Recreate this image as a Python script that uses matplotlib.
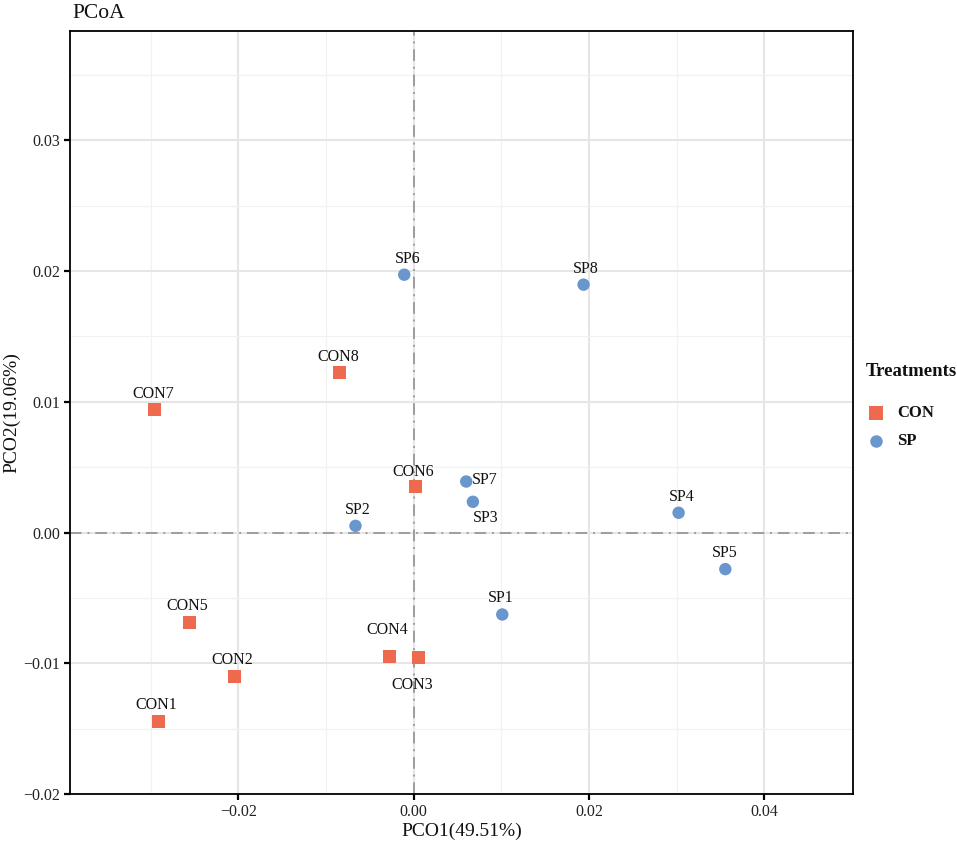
import matplotlib
matplotlib.use("Agg")
import matplotlib.pyplot as plt
from matplotlib.lines import Line2D

plt.rcParams['font.family'] = ['Liberation Serif', 'DejaVu Serif']
plt.rcParams['axes.unicode_minus'] = True

# ---- data ----
con_names = ["CON1", "CON2", "CON3", "CON4", "CON5", "CON6", "CON7", "CON8"]
con_x = [-0.02915, -0.02048, 0.00051, -0.00280, -0.02558, 0.00021, -0.02961, -0.00847]
con_y = [-0.01445, -0.01098, -0.00956, -0.00945, -0.00688, 0.00349, 0.00938, 0.01223]

sp_names = ["SP1", "SP2", "SP3", "SP4", "SP5", "SP6", "SP7", "SP8"]
sp_x = [0.01010, -0.00664, 0.00675, 0.03021, 0.03554, -0.00108, 0.00599, 0.01937]
sp_y = [-0.00627, 0.00051, 0.00235, 0.00151, -0.00280, 0.01972, 0.00390, 0.01896]

groups = ["CON", "SP"]
x_ticks = [-0.02, 0.00, 0.02, 0.04]
y_ticks = [-0.02, -0.01, 0.00, 0.01, 0.02, 0.03]

# label offsets (pixels) for repelled labels
con_off = [(-2, 16), (-2, 16), (-6, -27), (-2, 26), (-2, 16), (-2, 15), (-1, 16), (-1, 16)]
sp_off = [(-2, 16), (2, 16), (13, -16), (3, 16), (-1, 16), (3, 16), (19, 2), (2, 16)]

col_con = "#EE6A4F"
col_sp = "#6A96CE"
txt = '#111111'

W, H = 957, 841
fig = plt.figure(figsize=(W / 100, H / 100), dpi=100)
ax = fig.add_axes([70 / W, (H - 794) / H, (853 - 70) / W, (794 - 31) / H])

ax.set_xlim(-0.0392, 0.0501)
ax.set_ylim(-0.02, 0.03836)

ax.set_xticks(x_ticks)
ax.set_yticks(y_ticks)
ax.set_xticks([-0.03, -0.01, 0.01, 0.03], minor=True)
ax.set_yticks([-0.015, -0.005, 0.005, 0.015, 0.025, 0.035], minor=True)
ax.set_xticklabels(["\u22120.02", "0.00", "0.02", "0.04"])
ax.set_yticklabels(["\u22120.02", "\u22120.01", "0.00", "0.01", "0.02", "0.03"])

ax.grid(True, which='major', color='#E6E6E6', linewidth=1.5, zorder=0)
ax.grid(True, which='minor', color='#F2F2F2', linewidth=0.9, zorder=0)
ax.set_axisbelow(True)

ax.tick_params(axis='both', which='major', direction='out', length=4, width=1.6,
               colors='black', labelsize=11.5, labelcolor='#222222', pad=3)
ax.tick_params(axis='both', which='minor', length=0)
for s in ax.spines.values():
    s.set_linewidth(1.3)
    s.set_color('black')

ax.axvline(0, color='#9E9E9E', linewidth=1.4, linestyle=(0, (6, 3, 1, 3)), zorder=1)
ax.axhline(0, color='#9E9E9E', linewidth=1.4, linestyle=(0, (6, 3, 1, 3)), zorder=1)

ax.scatter(con_x, con_y, marker='s', s=88, color=col_con, edgecolors='none', zorder=3)
ax.scatter(sp_x, sp_y, marker='o', s=80, color=col_sp, edgecolors='none', zorder=3)

for n, x, y, o in zip(con_names, con_x, con_y, con_off):
    ax.annotate(n, (x, y), xytext=o, textcoords='offset pixels', ha='center', va='center',
                fontsize=11.5, color=txt, zorder=4)
for n, x, y, o in zip(sp_names, sp_x, sp_y, sp_off):
    ax.annotate(n, (x, y), xytext=o, textcoords='offset pixels', ha='center', va='center',
                fontsize=11.5, color=txt, zorder=4)

ax.set_xlabel("PCO1(49.51%)", fontsize=14, color=txt, labelpad=2)
ax.set_ylabel("PCO2(19.06%)", fontsize=14, color=txt, labelpad=2)
fig.text(72 / W, 1 - 13 / H, "PCoA", fontsize=15.5, ha='left', va='center', color=txt)

# legend (drawn in figure coordinates)
fig.text(866 / W, 1 - 372 / H, "Treatments", fontsize=13.5, fontweight='bold',
         ha='left', va='center', color=txt)
legend_rows = [(groups[0], 's', 9.4, col_con, 413), (groups[1], 'o', 9.0, col_sp, 441)]
for lab, mk, ms, c, py in legend_rows:
    fig.add_artist(Line2D([876 / W], [1 - py / H], marker=mk, markersize=ms, color=c,
                          markeredgewidth=0, linestyle='none', transform=fig.transFigure))
    fig.text(897 / W, 1 - py / H, lab, fontsize=12, fontweight='bold', ha='left',
             va='center', color=txt)

fig.savefig("out.png", dpi=100)
